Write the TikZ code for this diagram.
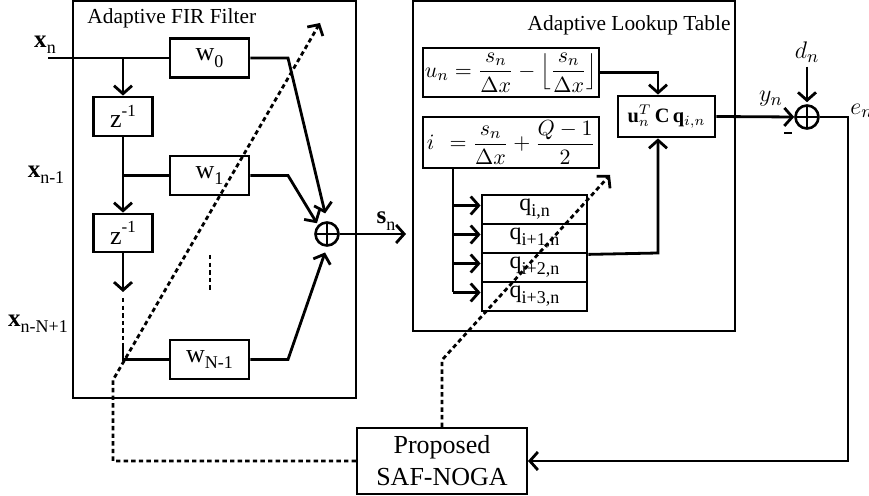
\documentclass[tikz,border=0pt]{standalone}
\usepackage{fontspec}
\setmainfont{Liberation Serif}
\usetikzlibrary{arrows.meta}

% lowered / raised indices in text font
\newcommand{\sbs}[1]{\raisebox{-0.55ex}{\fontsize{9}{9}\selectfont #1}}
\newcommand{\sps}[1]{\raisebox{0.95ex}{\fontsize{8.5}{8.5}\selectfont #1}}

\tikzset{
  wire/.style={line width=1.4pt},
  arr/.style={wire,-{Straight Barb[length=4pt,width=9pt]}},
  fb/.style={line width=1.4pt, dash pattern=on 2.2pt off 1.6pt},
  fbarr/.style={fb,-{Straight Barb[length=4pt,width=9pt]}},
  blk/.style={draw, line width=1.4pt, inner sep=0pt, font=\fontsize{13}{13}\selectfont},
  qcell/.style={draw, line width=1.4pt, inner sep=0pt, minimum width=52.5pt, minimum height=14.5pt, font=\fontsize{12}{12}\selectfont},
  mbox/.style={draw, line width=1.4pt, inner sep=0pt, font=\fontsize{10.9}{10.9}\selectfont},
  lbl/.style={inner sep=0pt, font=\fontsize{12.5}{12.5}\selectfont},
  ttl/.style={inner sep=0pt, font=\fontsize{10.7}{10.7}\selectfont},
  sumnode/.style={circle, draw, line width=1.3pt, minimum size=11.5pt, inner sep=0pt,
    path picture={\draw[line width=1.3pt] (path picture bounding box.north) -- (path picture bounding box.south)
      (path picture bounding box.west) -- (path picture bounding box.east);}},
}

\begin{document}
\begin{tikzpicture}[x=0.5pt,y=-0.5pt]
\useasboundingbox (0,0) rectangle (869,496);

% ---------------- adaptive FIR filter ----------------
\node[draw, line width=1.4pt, minimum width=141.5pt, minimum height=198.5pt, inner sep=0pt] (fir) at (214.5,199.5) {};
\node[ttl, anchor=west] (firtitle) at (87,18) {Adaptive FIR Filter};

\node[lbl] (xn) at (45,45) {\textbf{x}\sbs{n}};
\node[lbl] (xn1) at (46,175) {\textbf{x}\sbs{n-1}};
\node[lbl] (xnN) at (38,324) {\textbf{x}\sbs{n-N+1}};

\node[blk, minimum width=39.5pt, minimum height=19.5pt] (w0) at (209.5,58) {w\sbs{0}};
\node[blk, minimum width=29.5pt, minimum height=19.5pt] (z1) at (123,116.5) {z\sps{-1}};
\node[blk, minimum width=39.5pt, minimum height=19.5pt] (w1) at (209.5,175.5) {w\sbs{1}};
\node[blk, minimum width=29.5pt, minimum height=19pt] (z2) at (123,233) {z\sps{-1}};
\node[blk, minimum width=39.5pt, minimum height=19.5pt] (wN) at (209.5,359.5) {w\sbs{N-1}};

\node[sumnode] (s1) at (327,234) {};
\node[lbl] (sn) at (386,221) {\textbf{s}\sbs{n}};

\coordinate (xin) at (48,58);
\coordinate (tap0) at (123,58);
\coordinate (tap1) at (123,175.5);
\coordinate (zout) at (123,292);
\coordinate (dotA) at (123,298);
\coordinate (dotB) at (123,343);
\coordinate (tapN) at (123,359.5);
\coordinate (k0) at (288,58);
\coordinate (k1) at (288,175.5);
\coordinate (kN) at (288,359.5);
\coordinate (snout) at (406,234);

\draw[wire] (xin) -- (w0.west);
\draw[arr] (tap0) -- (z1.north);
\draw[wire] (z1.south) -- (tap1) -- (w1.west);
\draw[arr] (tap1) -- (z2.north);
\draw[arr] (z2.south) -- (zout);
\draw[fb] (dotA) -- (dotB);
\draw[wire] (dotB) -- (tapN) -- (wN.west);
\draw[fb] (210,255) -- (210,290);

\draw[arr, shorten >=4pt] (w0.east) -- (k0) -- (s1.north);
\draw[arr, shorten >=1pt] (w1.east) -- (k1) -- (s1.north west);
\draw[arr, shorten >=3pt] (wN.east) -- (kN) -- (s1.south);
\draw[arr] (s1.east) -- (snout);

% ---------------- adaptive lookup table ----------------
\node[draw, line width=1pt, minimum width=161pt, minimum height=165pt, inner sep=0pt] (lut) at (574,166) {};
\node[ttl, anchor=east] (luttitle) at (731,25) {Adaptive Lookup Table};

\node[mbox, minimum width=88pt, minimum height=24.5pt] (un) at (511,72.5)
  {$\displaystyle u_n = \frac{s_n}{\Delta x} - \Big\lfloor \frac{s_n}{\Delta x}\Big\rfloor$};
\node[mbox, minimum width=88pt, minimum height=25.5pt] (ib) at (511,142.5)
  {$\displaystyle i\ \,= \frac{s_n}{\Delta x} + \frac{Q-1}{2}$};
\node[mbox, minimum width=48.5pt, minimum height=20.5pt, font=\fontsize{10.2}{10.2}\selectfont] (cb) at (666.5,116.5)
  {$\mathbf{u}_n^T\,\mathbf{C}\,\mathbf{q}_{i,n}$};

\node[qcell] (q0) at (534.5,209.5) {q\sbs{i,n}};
\node[qcell] (q1) at (534.5,238.5) {q\sbs{i+1,n}};
\node[qcell] (q2) at (534.5,267.5) {q\sbs{i+2,n}};
\node[qcell] (q3) at (534.5,296.5) {q\sbs{i+3,n}};

\coordinate (brtop) at (453,168);
\coordinate (ku) at (658,72.5);
\coordinate (kq) at (658,253);

\draw[wire] (brtop) -- ([yshift=2pt]q3.west -| brtop);
\foreach \q in {q0,q1,q2,q3}
  \draw[arr] ([yshift=2pt]\q.west -| brtop) -- ([yshift=2pt]\q.west);

\draw[arr] (un.east) -- (ku) -- (ku |- cb.north);
\draw[arr] (q1.south east) -- (kq) -- (kq |- cb.south);

% ---------------- error computation ----------------
\node[sumnode] (s2) at (807,117) {};
\node[lbl] (dn) at (807,52) {$d_n$};
\node[lbl] (yn) at (771,99) {$y_n$};
\node[lbl, anchor=west] (en) at (850,111) {$e_n$};
\node[inner sep=0pt] (minus) at (788,133) {\rule{4pt}{1.4pt}};

\draw[arr] (cb.east) -- (s2.west);
\draw[arr, shorten <=2pt, shorten >=1pt] (dn.south) -- (s2.north);

% ---------------- update algorithm ----------------
\node[draw, line width=1pt, minimum width=85pt, minimum height=33pt, inner sep=0pt, align=center,
      font=\fontsize{13}{16}\selectfont] (saf) at (442,461) {Proposed\\SAF-NOGA};

\coordinate (ke) at (848,117);
\draw[arr] (s2.east) -- (ke) |- (saf.east);

\coordinate (c1) at (113,380);
\coordinate (tip1) at (320,23);
\draw[fbarr] (saf.west) -| (c1) -- (tip1);

\coordinate (c2) at (442,360);
\coordinate (tip2) at (610,175);
\draw[fbarr] (saf.north) -- (c2) -- (tip2);
\end{tikzpicture}
\end{document}
